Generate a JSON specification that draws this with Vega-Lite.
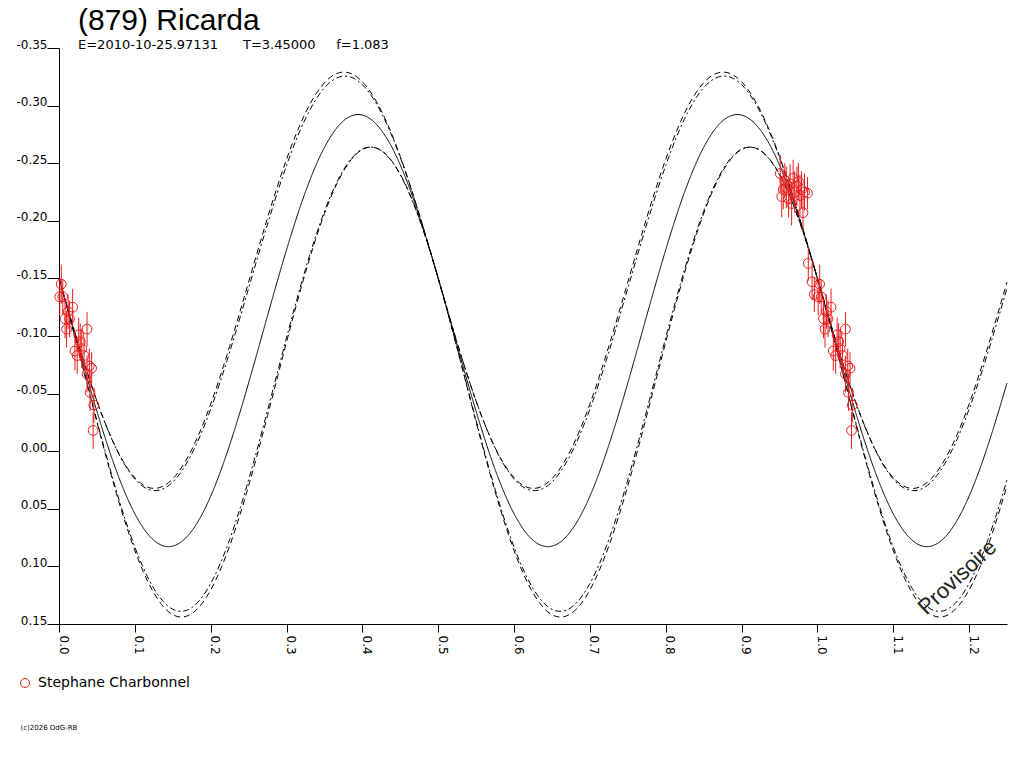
{
  "$schema": "https://vega.github.io/schema/vega-lite/v6.json",
  "width": 948,
  "height": 576,
  "autosize": {"type": "none"},
  "padding": {"left": 59, "top": 48, "right": 17, "bottom": 144},
  "background": "white",
  "config": {"view": {"stroke": null}, "font": "DejaVu Sans"},
  "title": {
    "text": "(879) Ricarda",
    "subtitle": "E=2010-10-25.97131\u00a0\u00a0\u00a0\u00a0\u00a0\u00a0T=3.45000\u00a0\u00a0\u00a0\u00a0\u00a0f=1.083",
    "anchor": "start",
    "frame": "group",
    "dx": 19,
    "offset": -14,
    "font": "Liberation Sans",
    "fontSize": 30,
    "fontWeight": "normal",
    "color": "#000",
    "subtitleFont": "DejaVu Sans",
    "subtitleFontSize": 13,
    "subtitleColor": "#000",
    "subtitlePadding": 3
  },
  "datasets": {
    "curves": [
      {"p": 0.000, "s": -0.1503, "u1": -0.1500, "u2": -0.1500, "l1": -0.1501, "l2": -0.1499},
      {"p": 0.025, "s": -0.0918, "u1": -0.0941, "u2": -0.0942, "l1": -0.0891, "l2": -0.0895},
      {"p": 0.050, "s": -0.0346, "u1": -0.0435, "u2": -0.0434, "l1": -0.0253, "l2": -0.0265},
      {"p": 0.075, "s": 0.0158, "u1": -0.0031, "u2": -0.0027, "l1": 0.0351, "l2": 0.0330},
      {"p": 0.100, "s": 0.0543, "u1": 0.0230, "u2": 0.0241, "l1": 0.0862, "l2": 0.0832},
      {"p": 0.125, "s": 0.0773, "u1": 0.0323, "u2": 0.0342, "l1": 0.1230, "l2": 0.1191},
      {"p": 0.150, "s": 0.0824, "u1": 0.0239, "u2": 0.0268, "l1": 0.1419, "l2": 0.1372},
      {"p": 0.175, "s": 0.0693, "u1": -0.0013, "u2": 0.0024, "l1": 0.1410, "l2": 0.1358},
      {"p": 0.200, "s": 0.0391, "u1": -0.0409, "u2": -0.0364, "l1": 0.1205, "l2": 0.1149},
      {"p": 0.225, "s": -0.0053, "u1": -0.0911, "u2": -0.0860, "l1": 0.0822, "l2": 0.0767},
      {"p": 0.250, "s": -0.0592, "u1": -0.1468, "u2": -0.1414, "l1": 0.0301, "l2": 0.0249},
      {"p": 0.275, "s": -0.1177, "u1": -0.2027, "u2": -0.1972, "l1": -0.0309, "l2": -0.0355},
      {"p": 0.300, "s": -0.1748, "u1": -0.2533, "u2": -0.2480, "l1": -0.0947, "l2": -0.0985},
      {"p": 0.325, "s": -0.2252, "u1": -0.2937, "u2": -0.2887, "l1": -0.1551, "l2": -0.1580},
      {"p": 0.350, "s": -0.2637, "u1": -0.3198, "u2": -0.3155, "l1": -0.2062, "l2": -0.2082},
      {"p": 0.375, "s": -0.2867, "u1": -0.3291, "u2": -0.3256, "l1": -0.2430, "l2": -0.2441},
      {"p": 0.400, "s": -0.2918, "u1": -0.3207, "u2": -0.3182, "l1": -0.2619, "l2": -0.2622},
      {"p": 0.425, "s": -0.2787, "u1": -0.2955, "u2": -0.2938, "l1": -0.2610, "l2": -0.2608},
      {"p": 0.450, "s": -0.2485, "u1": -0.2559, "u2": -0.2550, "l1": -0.2405, "l2": -0.2399},
      {"p": 0.475, "s": -0.2041, "u1": -0.2057, "u2": -0.2054, "l1": -0.2022, "l2": -0.2017},
      {"p": 0.500, "s": -0.1503, "u1": -0.1500, "u2": -0.1500, "l1": -0.1501, "l2": -0.1499},
      {"p": 0.525, "s": -0.0918, "u1": -0.0941, "u2": -0.0942, "l1": -0.0891, "l2": -0.0895},
      {"p": 0.550, "s": -0.0346, "u1": -0.0435, "u2": -0.0434, "l1": -0.0253, "l2": -0.0265},
      {"p": 0.575, "s": 0.0158, "u1": -0.0031, "u2": -0.0027, "l1": 0.0351, "l2": 0.0330},
      {"p": 0.600, "s": 0.0543, "u1": 0.0230, "u2": 0.0241, "l1": 0.0862, "l2": 0.0832},
      {"p": 0.625, "s": 0.0773, "u1": 0.0323, "u2": 0.0342, "l1": 0.1230, "l2": 0.1191},
      {"p": 0.650, "s": 0.0824, "u1": 0.0239, "u2": 0.0268, "l1": 0.1419, "l2": 0.1372},
      {"p": 0.675, "s": 0.0693, "u1": -0.0013, "u2": 0.0024, "l1": 0.1410, "l2": 0.1358},
      {"p": 0.700, "s": 0.0391, "u1": -0.0409, "u2": -0.0364, "l1": 0.1205, "l2": 0.1149},
      {"p": 0.725, "s": -0.0053, "u1": -0.0911, "u2": -0.0860, "l1": 0.0822, "l2": 0.0767},
      {"p": 0.750, "s": -0.0592, "u1": -0.1468, "u2": -0.1414, "l1": 0.0301, "l2": 0.0249},
      {"p": 0.775, "s": -0.1177, "u1": -0.2027, "u2": -0.1972, "l1": -0.0309, "l2": -0.0355},
      {"p": 0.800, "s": -0.1748, "u1": -0.2533, "u2": -0.2480, "l1": -0.0947, "l2": -0.0985},
      {"p": 0.825, "s": -0.2252, "u1": -0.2937, "u2": -0.2887, "l1": -0.1551, "l2": -0.1580},
      {"p": 0.850, "s": -0.2637, "u1": -0.3198, "u2": -0.3155, "l1": -0.2062, "l2": -0.2082},
      {"p": 0.875, "s": -0.2867, "u1": -0.3291, "u2": -0.3256, "l1": -0.2430, "l2": -0.2441},
      {"p": 0.900, "s": -0.2918, "u1": -0.3207, "u2": -0.3182, "l1": -0.2619, "l2": -0.2622},
      {"p": 0.925, "s": -0.2787, "u1": -0.2955, "u2": -0.2938, "l1": -0.2610, "l2": -0.2608},
      {"p": 0.950, "s": -0.2485, "u1": -0.2559, "u2": -0.2550, "l1": -0.2405, "l2": -0.2399},
      {"p": 0.975, "s": -0.2041, "u1": -0.2057, "u2": -0.2054, "l1": -0.2022, "l2": -0.2017},
      {"p": 1.000, "s": -0.1503, "u1": -0.1500, "u2": -0.1500, "l1": -0.1501, "l2": -0.1499},
      {"p": 1.025, "s": -0.0918, "u1": -0.0941, "u2": -0.0942, "l1": -0.0891, "l2": -0.0895},
      {"p": 1.050, "s": -0.0346, "u1": -0.0435, "u2": -0.0434, "l1": -0.0253, "l2": -0.0265},
      {"p": 1.075, "s": 0.0158, "u1": -0.0031, "u2": -0.0027, "l1": 0.0351, "l2": 0.0330},
      {"p": 1.100, "s": 0.0543, "u1": 0.0230, "u2": 0.0241, "l1": 0.0862, "l2": 0.0832},
      {"p": 1.125, "s": 0.0773, "u1": 0.0323, "u2": 0.0342, "l1": 0.1230, "l2": 0.1191},
      {"p": 1.150, "s": 0.0824, "u1": 0.0239, "u2": 0.0268, "l1": 0.1419, "l2": 0.1372},
      {"p": 1.175, "s": 0.0693, "u1": -0.0013, "u2": 0.0024, "l1": 0.1410, "l2": 0.1358},
      {"p": 1.200, "s": 0.0391, "u1": -0.0409, "u2": -0.0364, "l1": 0.1205, "l2": 0.1149},
      {"p": 1.225, "s": -0.0053, "u1": -0.0911, "u2": -0.0860, "l1": 0.0822, "l2": 0.0767},
      {"p": 1.250, "s": -0.0592, "u1": -0.1468, "u2": -0.1414, "l1": 0.0301, "l2": 0.0249}
    ],
    "obs": [
      {"p": 0.001, "mag": -0.134, "err": 0.016},
      {"p": 0.003, "mag": -0.145, "err": 0.017},
      {"p": 0.005, "mag": -0.134, "err": 0.015},
      {"p": 0.008, "mag": -0.115, "err": 0.017},
      {"p": 0.010, "mag": -0.106, "err": 0.016},
      {"p": 0.012, "mag": -0.121, "err": 0.015},
      {"p": 0.014, "mag": -0.115, "err": 0.016},
      {"p": 0.018, "mag": -0.125, "err": 0.016},
      {"p": 0.021, "mag": -0.087, "err": 0.017},
      {"p": 0.024, "mag": -0.083, "err": 0.016},
      {"p": 0.026, "mag": -0.101, "err": 0.015},
      {"p": 0.028, "mag": -0.095, "err": 0.016},
      {"p": 0.030, "mag": -0.089, "err": 0.017},
      {"p": 0.033, "mag": -0.083, "err": 0.016},
      {"p": 0.037, "mag": -0.106, "err": 0.015},
      {"p": 0.037, "mag": -0.067, "err": 0.016},
      {"p": 0.040, "mag": -0.074, "err": 0.015},
      {"p": 0.041, "mag": -0.051, "err": 0.016},
      {"p": 0.043, "mag": -0.072, "err": 0.014},
      {"p": 0.046, "mag": -0.040, "err": 0.015},
      {"p": 0.045, "mag": -0.018, "err": 0.016},
      {"p": 0.951, "mag": -0.241, "err": 0.016},
      {"p": 0.953, "mag": -0.221, "err": 0.018},
      {"p": 0.955, "mag": -0.227, "err": 0.017},
      {"p": 0.957, "mag": -0.235, "err": 0.015},
      {"p": 0.959, "mag": -0.229, "err": 0.018},
      {"p": 0.962, "mag": -0.219, "err": 0.016},
      {"p": 0.964, "mag": -0.232, "err": 0.017},
      {"p": 0.966, "mag": -0.215, "err": 0.019},
      {"p": 0.968, "mag": -0.237, "err": 0.016},
      {"p": 0.970, "mag": -0.225, "err": 0.018},
      {"p": 0.973, "mag": -0.230, "err": 0.017},
      {"p": 0.975, "mag": -0.234, "err": 0.016},
      {"p": 0.977, "mag": -0.222, "err": 0.018},
      {"p": 0.979, "mag": -0.227, "err": 0.016},
      {"p": 0.981, "mag": -0.207, "err": 0.015},
      {"p": 0.983, "mag": -0.225, "err": 0.016},
      {"p": 0.987, "mag": -0.224, "err": 0.014},
      {"p": 0.988, "mag": -0.163, "err": 0.015},
      {"p": 0.993, "mag": -0.147, "err": 0.016},
      {"p": 0.996, "mag": -0.136, "err": 0.015},
      {"p": 1.001, "mag": -0.134, "err": 0.016},
      {"p": 1.003, "mag": -0.145, "err": 0.017},
      {"p": 1.005, "mag": -0.134, "err": 0.015},
      {"p": 1.008, "mag": -0.115, "err": 0.017},
      {"p": 1.010, "mag": -0.106, "err": 0.016},
      {"p": 1.012, "mag": -0.121, "err": 0.015},
      {"p": 1.014, "mag": -0.115, "err": 0.016},
      {"p": 1.018, "mag": -0.125, "err": 0.016},
      {"p": 1.021, "mag": -0.087, "err": 0.017},
      {"p": 1.024, "mag": -0.083, "err": 0.016},
      {"p": 1.026, "mag": -0.101, "err": 0.015},
      {"p": 1.028, "mag": -0.095, "err": 0.016},
      {"p": 1.030, "mag": -0.089, "err": 0.017},
      {"p": 1.033, "mag": -0.083, "err": 0.016},
      {"p": 1.037, "mag": -0.106, "err": 0.015},
      {"p": 1.037, "mag": -0.067, "err": 0.016},
      {"p": 1.040, "mag": -0.074, "err": 0.015},
      {"p": 1.041, "mag": -0.051, "err": 0.016},
      {"p": 1.043, "mag": -0.072, "err": 0.014},
      {"p": 1.046, "mag": -0.040, "err": 0.015},
      {"p": 1.045, "mag": -0.018, "err": 0.016}
    ]
  },
  "layer": [
    {
      "data": {"name": "curves"},
      "transform": [{"fold": ["u1", "u2", "s", "l1", "l2"], "as": ["curve", "mag"]}],
      "mark": {"type": "line", "interpolate": "natural", "strokeWidth": 1, "color": "#000"},
      "encoding": {
        "x": {
          "field": "p",
          "type": "quantitative",
          "scale": {"domain": [0, 1.25], "nice": false, "zero": false},
          "axis": {
            "values": [0, 0.05, 0.1, 0.15, 0.2, 0.25, 0.3, 0.35, 0.4, 0.45, 0.5, 0.55, 0.6, 0.65, 0.7, 0.75, 0.8, 0.85, 0.9, 0.95, 1, 1.05, 1.1, 1.15, 1.2, 1.25],
            "labelExpr": "round(datum.value*100)%10==0 ? format(datum.value,'.1f') : ''",
            "labelAngle": 90,
            "labelAlign": "left",
            "labelBaseline": "alphabetic",
            "labelPadding": 3,
            "labelFont": "DejaVu Sans",
            "labelFontSize": 12,
            "labelColor": "#000",
            "labelFlush": false,
            "labelOverlap": false,
            "tickSize": 8,
            "tickColor": "#000",
            "domainColor": "#000",
            "grid": false,
            "title": "(c)2026 OdG-RB",
            "titleX": -39,
            "titleY": 105,
            "titleAlign": "left",
            "titleBaseline": "alphabetic",
            "titleAngle": 0,
            "titleFont": "DejaVu Sans",
            "titleFontSize": 7,
            "titleFontWeight": "normal",
            "titleColor": "#000"
          }
        },
        "y": {
          "field": "mag",
          "type": "quantitative",
          "scale": {"domain": [-0.35, 0.15], "reverse": true, "nice": false, "zero": false},
          "axis": {
            "values": [-0.35, -0.3, -0.25, -0.2, -0.15, -0.1, -0.05, 0, 0.05, 0.1, 0.15],
            "labelExpr": "replace(format(datum.value,'.2f'),'−','-')",
            "labelAlign": "right",
            "labelBaseline": "alphabetic",
            "labelPadding": 0,
            "labelFont": "DejaVu Sans",
            "labelFontSize": 12,
            "labelColor": "#000",
            "labelFlush": false,
            "labelOverlap": false,
            "tickSize": 12,
            "tickColor": "#000",
            "domainColor": "#000",
            "grid": false,
            "title": null
          }
        },
        "detail": {"field": "curve"},
        "strokeDash": {
          "field": "curve",
          "type": "nominal",
          "scale": {"domain": ["s", "u1", "u2", "l1", "l2"], "range": [[1, 0], [6, 4], [6, 3, 2, 3], [6, 4], [6, 3, 2, 3]]},
          "legend": null
        }
      }
    },
    {
      "data": {"name": "obs"},
      "mark": {"type": "errorbar", "color": "#ee1c1c", "thickness": 1},
      "encoding": {
        "x": {"field": "p", "type": "quantitative"},
        "y": {"field": "mag", "type": "quantitative"},
        "yError": {"field": "err"}
      }
    },
    {
      "data": {"name": "obs"},
      "mark": {"type": "point", "shape": "circle", "filled": false, "size": 95, "strokeWidth": 1, "opacity": 1},
      "encoding": {
        "x": {"field": "p", "type": "quantitative"},
        "y": {"field": "mag", "type": "quantitative"},
        "color": {
          "datum": "Stephane Charbonnel",
          "type": "nominal",
          "scale": {"range": ["#ee1c1c"]},
          "legend": {
            "title": null,
            "orient": "none",
            "legendX": -41,
            "legendY": 628,
            "padding": 0,
            "labelFont": "DejaVu Sans",
            "labelFontSize": 14,
            "labelColor": "#000",
            "labelOffset": 6,
            "symbolType": "circle",
            "symbolSize": 80,
            "symbolStrokeWidth": 1,
            "symbolOpacity": 1
          }
        }
      }
    },
    {
      "data": {"values": [{}]},
      "mark": {"type": "text", "text": "Provisoire", "angle": 317, "font": "Liberation Sans", "fontSize": 22, "color": "#222", "align": "center", "baseline": "middle"},
      "encoding": {
        "x": {"datum": 1.1845, "type": "quantitative"},
        "y": {"datum": 0.1094, "type": "quantitative"}
      }
    }
  ]
}
